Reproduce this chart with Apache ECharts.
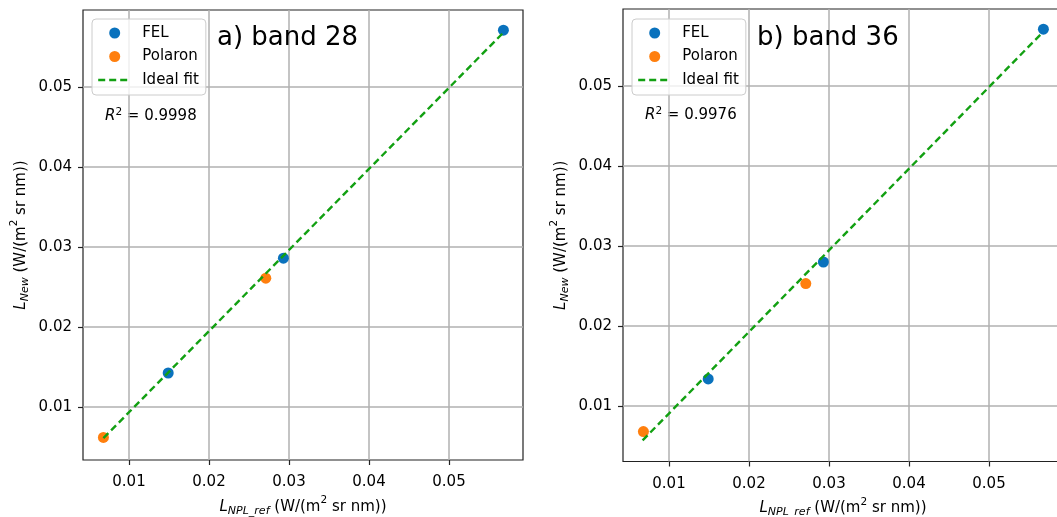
<!DOCTYPE html>
<html>
<head>
<meta charset="utf-8">
<title>Band 28 / Band 36 radiance comparison</title>
<script src="https://cdn.jsdelivr.net/npm/echarts@6/dist/echarts.min.js"></script>
<style>
  html, body { margin: 0; padding: 0; background: #fff; }
  #chart { width: 1057px; height: 517px; }
</style>
</head>
<body>
<div id="chart"></div>
<script>
// Reference radiance (x) for each lamp type, shared by both bands
const felRef = [0.0149, 0.0293, 0.0568];
const polRef = [0.0068, 0.0271];

// New radiance (y), band 28
const felNew28 = [0.01425, 0.0286, 0.0571];
const polNew28 = [0.0062, 0.0261];
// New radiance (y), band 36
const felNew36 = [0.01338, 0.0280, 0.0571];
const polNew36 = [0.0068, 0.0253];

// Ideal-fit line endpoints [x, y]
const fit28 = [[0.0068, 0.0061], [0.0567, 0.0567]];
const fit36 = [[0.0067, 0.0057], [0.0567, 0.0567]];

const panelTitles = ['a) band 28', 'b) band 36'];
const rSquared = ['0.9998', '0.9976'];
const tickValues = [0.01, 0.02, 0.03, 0.04, 0.05];

const FONT = 'DejaVu Sans';
const BLUE = '#0a72bd';
const ORANGE = '#ff7f0e';
const GREEN = '#12a012';

const pairs = (xs, ys) => xs.map((x, i) => [x, ys[i]]);

// Axis-title rich text: italic symbol, subscript (shifted down), superscript (shifted up)
const richLabel = {
  i: { fontFamily: FONT, fontSize: 15, fontStyle: 'italic', color: '#000', lineHeight: 22, verticalAlign: 'middle' },
  s: { fontFamily: FONT, fontSize: 11, fontStyle: 'italic', color: '#000', lineHeight: 22, verticalAlign: 'middle', padding: [8, 0, 0, 0] },
  n: { fontFamily: FONT, fontSize: 15, color: '#000', lineHeight: 22, verticalAlign: 'middle' },
  p: { fontFamily: FONT, fontSize: 10.5, color: '#000', lineHeight: 12, verticalAlign: 'middle', padding: [0, 0, 13, 0] }
};

function makeX(gridIndex) {
  return {
    type: 'value', gridIndex,
    min: 0.00425, max: 0.05925,
    name: '{i|L}{s|NPL_ref}{n| (W/(m}{p|2}{n| sr nm))}',
    nameLocation: 'middle', nameGap: 33,
    nameTextStyle: { rich: richLabel },
    axisLine: { show: false },
    axisTick: { show: true, length: 5, lineStyle: { color: '#222', width: 1.2 }, customValues: tickValues },
    axisLabel: { fontFamily: FONT, fontSize: 15, color: '#000', margin: 15, customValues: tickValues,
                 formatter: v => v.toFixed(2) },
    splitLine: { show: true, lineStyle: { color: '#b0b0b0', width: 1.5 } }
  };
}

function makeY(gridIndex, min) {
  return {
    type: 'value', gridIndex,
    min: min, max: 0.059625,
    name: '{i|L}{s|New}{n| (W/(m}{p|2}{n| sr nm))}',
    nameLocation: 'middle', nameGap: 51,
    nameTextStyle: { rich: richLabel },
    axisLine: { show: false },
    axisTick: { show: true, length: 5, lineStyle: { color: '#222', width: 1.2 }, customValues: tickValues },
    axisLabel: { fontFamily: FONT, fontSize: 15, color: '#000', margin: 11, customValues: tickValues,
                 formatter: v => v.toFixed(2) },
    splitLine: { show: true, lineStyle: { color: '#b0b0b0', width: 1.5 } }
  };
}

function scatter(name, idx, data, color) {
  return {
    name, type: 'scatter', xAxisIndex: idx, yAxisIndex: idx,
    data, symbol: 'circle', symbolSize: 11,
    itemStyle: { color, opacity: 1 }, z: 3, silent: true
  };
}

function fitLine(idx, data) {
  return {
    name: 'Ideal fit', type: 'line', xAxisIndex: idx, yAxisIndex: idx,
    data, symbol: 'none', showSymbol: false,
    lineStyle: { color: GREEN, width: 2.4, type: [7, 4] },
    itemStyle: { color: GREEN },
    z: 4, silent: true, animation: false
  };
}

function legendAt(left) {
  return {
    orient: 'vertical', left, top: 19,
    padding: [5, 7, 6, 5],
    itemWidth: 33, itemHeight: 11, itemGap: 5.5,
    backgroundColor: 'rgba(255,255,255,0.8)',
    borderColor: '#cccccc', borderWidth: 1, borderRadius: 4,
    textStyle: { fontFamily: FONT, fontSize: 15, color: '#000', lineHeight: 18, padding: [0, 0, 0, 6] },
    selectedMode: false,
    data: [
      { name: 'FEL', icon: 'circle' },
      { name: 'Polaron', icon: 'circle' },
      { name: 'Ideal fit', itemStyle: { opacity: 0 },
        lineStyle: { color: GREEN, width: 2.4, type: [7, 4], opacity: 1 } }
    ]
  };
}

function rText(left, top, value) {
  return {
    type: 'text', left, top,
    style: {
      text: '{i|R}{p|2}{n| = ' + value + '}',
      rich: {
        i: { fontFamily: FONT, fontSize: 15, fontStyle: 'italic', fill: '#000', lineHeight: 18 },
        p: { fontFamily: FONT, fontSize: 10.5, fill: '#000', lineHeight: 10, verticalAlign: 'top' },
        n: { fontFamily: FONT, fontSize: 15, fill: '#000', lineHeight: 18 }
      }
    }
  };
}

const chart = echarts.init(document.getElementById('chart'), null, { renderer: 'canvas' });

chart.setOption({
  animation: false,
  backgroundColor: '#ffffff',
  textStyle: { fontFamily: FONT },
  grid: [
    { left: 83, top: 10, width: 440, height: 450, show: true, borderColor: '#222', borderWidth: 1.2,
      backgroundColor: 'transparent', outerBoundsMode: 'none', containLabel: false },
    { left: 623, top: 9, width: 440, height: 452.5, show: true, borderColor: '#222', borderWidth: 1.2,
      backgroundColor: 'transparent', outerBoundsMode: 'none', containLabel: false }
  ],
  xAxis: [makeX(0), makeX(1)],
  yAxis: [makeY(0, 0.003375), makeY(1, 0.00306)],
  title: [
    { text: panelTitles[0], left: 217, top: 23, textStyle: { fontFamily: FONT, fontSize: 26, fontWeight: 'normal', color: '#000', lineHeight: 30 }, padding: 0 },
    { text: panelTitles[1], left: 757, top: 23, textStyle: { fontFamily: FONT, fontSize: 26, fontWeight: 'normal', color: '#000', lineHeight: 30 }, padding: 0 }
  ],
  legend: [legendAt(92), legendAt(632)],
  graphic: [rText(105, 107, rSquared[0]), rText(645, 106, rSquared[1])],
  series: [
    scatter('FEL', 0, pairs(felRef, felNew28), BLUE),
    scatter('Polaron', 0, pairs(polRef, polNew28), ORANGE),
    fitLine(0, fit28),
    scatter('FEL', 1, pairs(felRef, felNew36), BLUE),
    scatter('Polaron', 1, pairs(polRef, polNew36), ORANGE),
    fitLine(1, fit36)
  ]
});
</script>
</body>
</html>
